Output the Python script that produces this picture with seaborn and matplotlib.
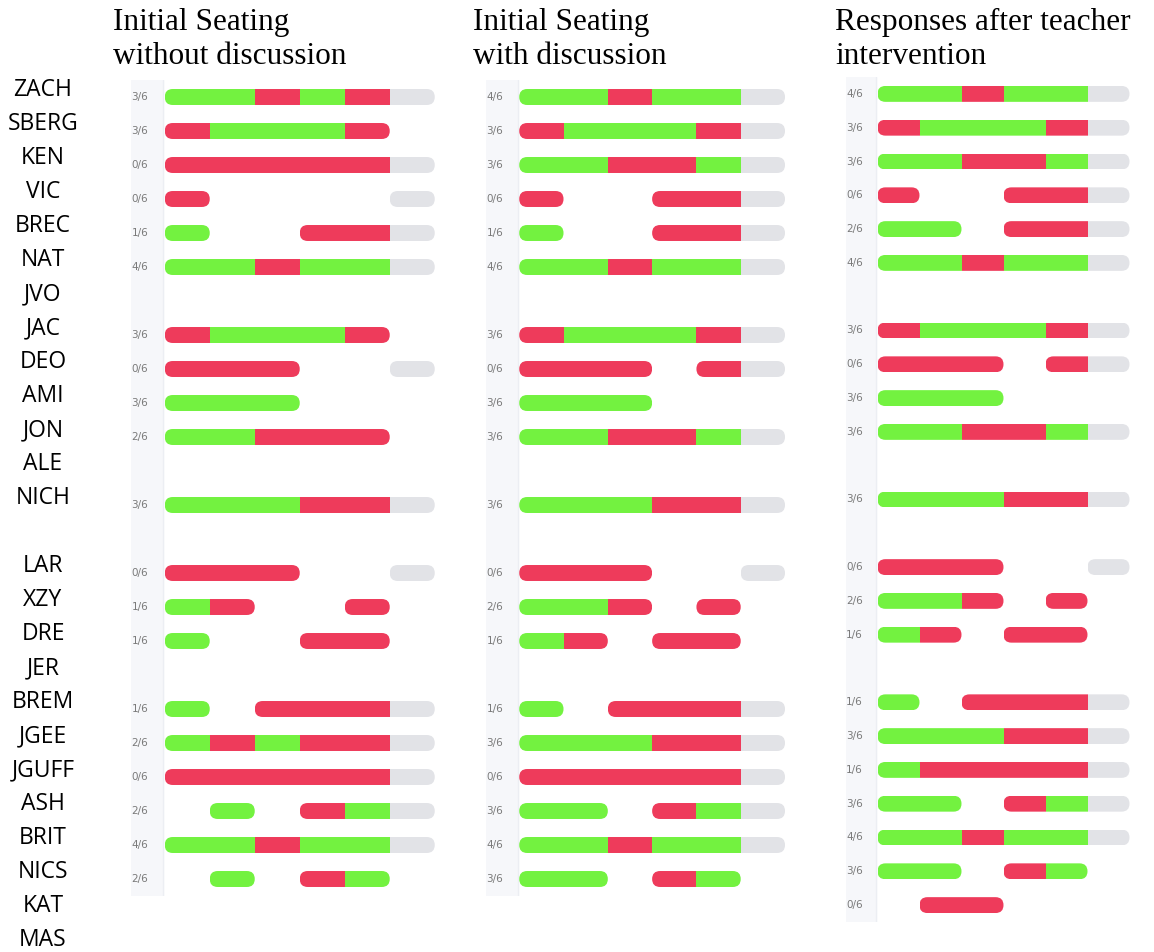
import matplotlib
matplotlib.use("Agg")
import matplotlib.pyplot as plt
from matplotlib.patches import FancyBboxPatch
import seaborn as sns

# student names, one per row (blank = gap row)
names = ["ZACH", "SBERG", "KEN", "VIC", "BREC", "NAT", "JVO", "JAC", "DEO", "AMI",
         "JON", "ALE", "NICH", "", "LAR", "XZY", "DRE", "JER", "BREM", "JGEE",
         "JGUFF", "ASH", "BRIT", "NICS", "KAT", "MAS"]

# per question: G = correct, R = incorrect, N = not graded, . = no answer
without_disc = ["GGRGRN", "RGGGR.", "RRRRRN", "R....N", "G..RRN", "GGRGGN", "",
                "RGGGR.", "RRR..N", "GGG...", "GGRRR.", "", "GGGRRN", "",
                "RRR..N", "GR..R.", "G..RR.", "", "G.RRRN", "GRGRRN", "RRRRRN",
                ".G.RGN", "GGRGGN", ".G.RG.", "", ""]
without_score = ["3/6", "3/6", "0/6", "0/6", "1/6", "4/6", "", "3/6", "0/6", "3/6",
                 "2/6", "", "3/6", "", "0/6", "1/6", "1/6", "", "1/6", "2/6", "0/6",
                 "2/6", "4/6", "2/6", "", ""]

with_disc = ["GGRGGN", "RGGGRN", "GGRRGN", "R..RRN", "G..RRN", "GGRGGN", "",
             "RGGGRN", "RRR.RN", "GGG...", "GGRRGN", "", "GGGRRN", "",
             "RRR..N", "GGR.R.", "GR.RR.", "", "G.RRRN", "GGGRRN", "RRRRRN",
             "GG.RGN", "GGRGGN", "GG.RG.", "", ""]
with_score = ["4/6", "3/6", "3/6", "0/6", "1/6", "4/6", "", "3/6", "0/6", "3/6",
              "3/6", "", "3/6", "", "0/6", "2/6", "1/6", "", "1/6", "3/6", "0/6",
              "3/6", "4/6", "3/6", "", ""]

after_teacher = ["GGRGGN", "RGGGRN", "GGRRGN", "R..RRN", "GG.RRN", "GGRGGN", "",
                 "RGGGRN", "RRR.RN", "GGG...", "GGRRGN", "", "GGGRRN", "",
                 "RRR..N", "GGR.R.", "GR.RR.", "", "G.RRRN", "GGGRRN", "GRRRRN",
                 "GG.RGN", "GGRGGN", "GG.RG.", ".RR...", ""]
after_score = ["4/6", "3/6", "3/6", "0/6", "2/6", "4/6", "", "3/6", "0/6", "3/6",
               "3/6", "", "3/6", "", "0/6", "2/6", "1/6", "", "1/6", "3/6", "1/6",
               "3/6", "4/6", "3/6", "0/6", ""]

titles = ["Initial Seating\nwithout discussion",
          "Initial Seating\nwith discussion",
          "Responses after teacher\nintervention"]

colors = {"G": "#73f240", "R": "#ee3b5b", "N": "#e2e3e7"}

sns.set_theme(style="white")
plt.rcParams["font.family"] = ["DejaVu Sans"]

W, H = 1154, 952
fig = plt.figure(figsize=(W / 100, H / 100), dpi=100)


def add_px_axes(left, top, width, height):
    return fig.add_axes([left / W, 1 - (top + height) / H, width / W, height / H])


def draw_panel(ax, rows, scores, slot_px, nrows):
    bar_h = 0.47
    rx = 8 / slot_px
    ax.axis("off")
    ax.axvspan(-0.75, -0.03, color="#f6f7fa", zorder=0)
    ax.axvline(-0.03, color="#eceef3", lw=1, zorder=0)
    for i, (row, score) in enumerate(zip(rows, scores)):
        if score:
            ax.text(-0.55, i, score, ha="center", va="center", fontsize=7.5,
                    color="#7a7a7a")
        # split the row into runs of answered questions
        j = 0
        while j < len(row):
            if row[j] == ".":
                j += 1
                continue
            k = j
            while k < len(row) and row[k] != ".":
                k += 1
            pill = FancyBboxPatch((j, i - bar_h / 2), k - j, bar_h,
                                  boxstyle=f"round,pad=0,rounding_size={rx}",
                                  mutation_aspect=(bar_h / 2) / rx,
                                  facecolor="none", edgecolor="none")
            ax.add_patch(pill)
            for q in range(j, k):
                bars = ax.barh(i, 1, left=q, height=bar_h, color=colors[row[q]],
                               linewidth=0, zorder=2)
                for b in bars:
                    b.set_clip_path(pill)
            j = k
    ax.set_xlim(-0.75, 6.3)
    ax.set_ylim(nrows - 0.5, -0.5)


# names column
ax_names = add_px_axes(0, 73, 120, 34 * 25.8)
ax_names.set_xlim(0, 120)
ax_names.set_ylim(25.3, -0.5)
ax_names.axis("off")
for i, name in enumerate(names):
    if name:
        ax_names.text(43, i, name, ha="center", va="center", fontsize=16.5,
                      family="Open Sans", color="black")

# three panels
ax1 = add_px_axes(131, 80, 45 * 7.05, 34 * 24)
draw_panel(ax1, without_disc, without_score, 45, 24)
ax2 = add_px_axes(486, 80, 44.3 * 7.05, 34 * 24)
draw_panel(ax2, with_disc, with_score, 44.3, 24)
ax3 = add_px_axes(846, 77, 42 * 7.05, 33.8 * 25)
draw_panel(ax3, after_teacher, after_score, 42, 25)

for x, t in zip([113, 473, 835], titles):
    fig.text(x / W, 1 - 8 / H, t, ha="left", va="top", fontsize=22.5,
             family="Liberation Serif", linespacing=1.22, color="black")

fig.savefig("out.png", dpi=100, facecolor="white")
